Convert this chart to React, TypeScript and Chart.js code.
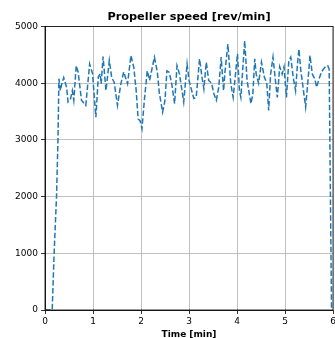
import React, { useEffect, useRef } from "react";
import { Chart, registerables } from "chart.js";

Chart.register(...registerables);

const TITLE = "Propeller speed [rev/min]";
const X_LABEL = "Time [min]";
const X_TICKS = [0, 1, 2, 3, 4, 5, 6];
const Y_TICKS = [0, 1000, 2000, 3000, 4000, 5000];

const timeMin = [
  0, 0.15, 0.19, 0.24, 0.27, 0.29, 0.32, 0.35, 0.39, 0.45,
  0.48, 0.53, 0.57, 0.6, 0.65, 0.69, 0.76, 0.85, 0.93, 0.99,
  1.06, 1.11, 1.15, 1.17, 1.21, 1.27, 1.34, 1.39, 1.44, 1.51,
  1.58, 1.64, 1.72, 1.79, 1.85, 1.9, 1.94, 1.98, 2.02, 2.07,
  2.13, 2.18, 2.22, 2.28, 2.34, 2.38, 2.45, 2.5, 2.54, 2.59,
  2.64, 2.7, 2.75, 2.8, 2.89, 2.96, 3.0, 3.1, 3.15, 3.22,
  3.27, 3.31, 3.36, 3.41, 3.47, 3.52, 3.57, 3.62, 3.67, 3.72,
  3.75, 3.81, 3.87, 3.92, 3.95, 4.01, 4.05, 4.08, 4.16, 4.21,
  4.29, 4.33, 4.37, 4.4, 4.45, 4.51, 4.57, 4.62, 4.66, 4.7,
  4.75, 4.8, 4.84, 4.89, 4.94, 4.98, 5.03, 5.08, 5.12, 5.17,
  5.22, 5.26, 5.29, 5.33, 5.38, 5.43, 5.49, 5.52, 5.57, 5.62,
  5.66, 5.7, 5.76, 5.83, 5.89, 5.92, 5.97,
];

const speedRpm = [
  0, 0, 1000, 2000, 3000, 4080, 3870, 3990, 4100, 3930,
  3670, 3720, 3870, 3700, 4310, 4200, 3700, 3610, 4340, 4170,
  3400, 4110, 4170, 3990, 4470, 3870, 4400, 4100, 4020, 3610,
  3990, 4200, 3990, 4490, 4280, 3870, 3370, 3340, 3200, 3700,
  4220, 4050, 4220, 4460, 4200, 3840, 3490, 3700, 4220, 4190,
  3990, 3640, 4310, 4170, 3670, 4340, 4050, 3730, 3750, 4430,
  4110, 3900, 4370, 4050, 4000, 3810, 3700, 3930, 4460, 3870,
  4200, 4690, 4000, 3750, 4000, 4520, 3870, 3750, 4750, 4050,
  3640, 3810, 4430, 4160, 4000, 4370, 4110, 4000, 3520, 4160,
  4460, 4050, 3750, 4290, 4160, 4290, 3750, 4400, 4460, 4110,
  3870, 4340, 4600, 4220, 3900, 3580, 4160, 4490, 4160, 4080,
  3930, 4050, 4200, 4280, 4310, 4250, 0,
];

const FONT = "'DejaVu Sans', sans-serif";

const frame = {
  id: "frame",
  afterDraw(chart: any) {
    const { ctx, chartArea: a } = chart;
    ctx.save();
    ctx.strokeStyle = "#000";
    ctx.lineWidth = 0.8;
    ctx.strokeRect(a.left, a.top, a.right - a.left, a.bottom - a.top);
    ctx.restore();
  },
};

export default function App() {
  const ref = useRef<HTMLCanvasElement | null>(null);
  useEffect(() => {
    document.body.style.margin = "0";
    const data = timeMin.map((t, i) => ({ x: t, y: speedRpm[i] }));
    const chart = new Chart(ref.current as HTMLCanvasElement, {
      type: "line",
      data: {
        datasets: [
          {
            data,
            borderColor: "#1f77b4",
            borderWidth: 1.5,
            borderDash: [5.5, 2.4],
            pointRadius: 0,
            tension: 0,
            fill: false,
          },
        ],
      },
      plugins: [frame],
      options: {
        animation: false,
        responsive: false,
        maintainAspectRatio: false,
        layout: { padding: { top: 0, left: 0, right: 2, bottom: 0 } },
        plugins: {
          legend: { display: false },
          tooltip: { enabled: false },
          title: {
            display: true,
            fullSize: false,
            text: TITLE,
            color: "#000",
            font: { family: FONT, size: 11.3, weight: "bold", lineHeight: 1.2 },
            padding: { top: 10, bottom: 3 },
          },
        },
        scales: {
          x: {
            type: "linear",
            min: 0,
            max: 6,
            afterBuildTicks: (s: any) => {
              s.ticks = X_TICKS.map((v) => ({ value: v }));
            },
            afterFit: (s: any) => {
              s.height = 28;
              s.paddingLeft = 0;
              s.paddingRight = 0;
            },
            ticks: {
              color: "#000",
              font: { family: FONT, size: 9 },
              padding: 2,
              maxRotation: 0,
              autoSkip: false,
            },
            grid: {
              color: "#b0b0b0",
              lineWidth: 0.8,
              tickColor: "#000",
              tickLength: 4,
            },
            border: { color: "#000", width: 0.8 },
            title: {
              display: true,
              text: X_LABEL,
              color: "#000",
              font: { family: FONT, size: 9, weight: "bold", lineHeight: 1 },
              padding: { top: 0, bottom: -1.5 },
            },
          },
          y: {
            type: "linear",
            min: 0,
            max: 5000,
            afterBuildTicks: (s: any) => {
              s.ticks = Y_TICKS.map((v) => ({ value: v }));
            },
            afterFit: (s: any) => {
              s.width = 45;
              s.paddingTop = 0;
              s.paddingBottom = 0;
            },
            ticks: {
              color: "#000",
              font: { family: FONT, size: 9 },
              padding: 3,
              autoSkip: false,
              callback: (v: any) => String(v),
            },
            grid: {
              color: "#b0b0b0",
              lineWidth: 0.8,
              tickColor: "#000",
              tickLength: 4,
            },
            border: { color: "#000", width: 0.8 },
          },
        },
      },
    } as any);
    return () => chart.destroy();
  }, []);
  return <canvas ref={ref} width={335} height={338} style={{ display: "block" }} />;
}
